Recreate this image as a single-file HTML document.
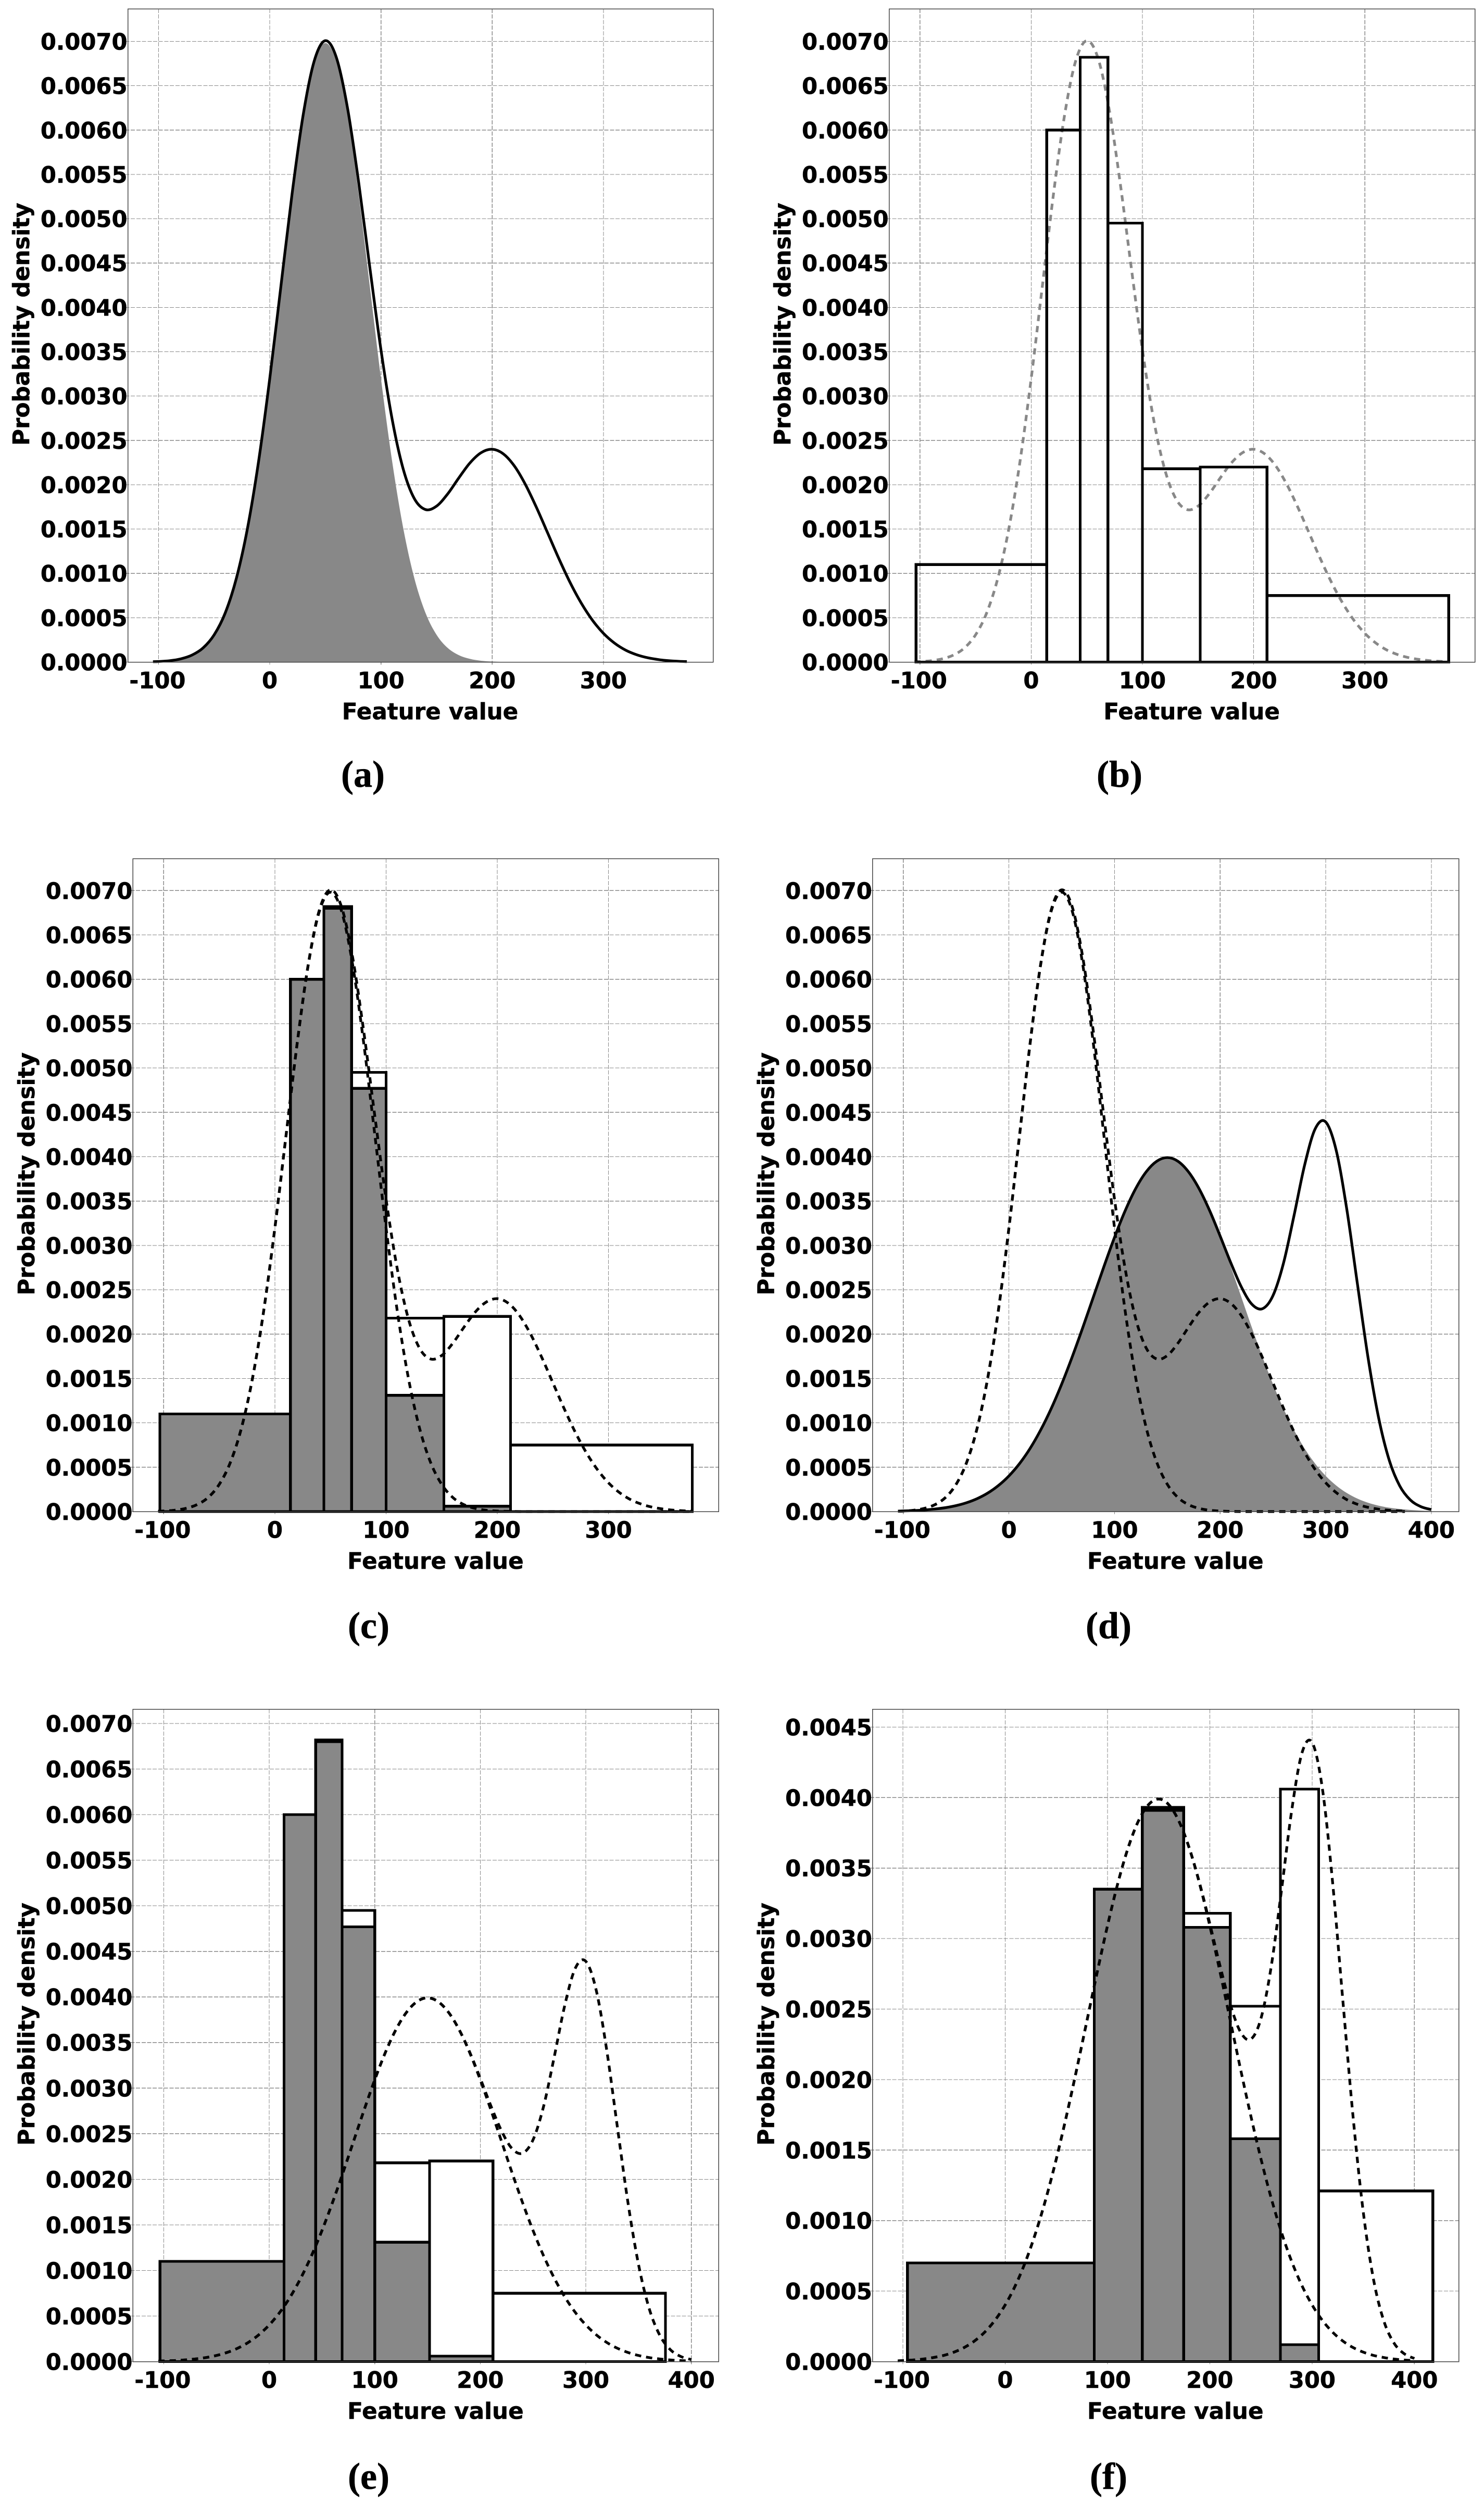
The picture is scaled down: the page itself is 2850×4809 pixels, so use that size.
<!DOCTYPE html>
<html>
<head>
<meta charset="utf-8">
<title>Probability density panels</title>
<style>
html,body{margin:0;padding:0;background:#fff;}
svg{display:block;}
text{fill:#000;stroke:#000;stroke-width:0.6px;}
.tick{font-family:"DejaVu Sans",sans-serif;font-weight:bold;font-size:43.2px;}
.axis{font-family:"DejaVu Sans",sans-serif;font-weight:bold;font-size:43.6px;}
.cap{font-family:"Liberation Serif",serif;font-weight:bold;font-size:72px;}
</style>
</head>
<body>
<svg id="figure" xmlns="http://www.w3.org/2000/svg" width="2850" height="4809" viewBox="0 0 2850 4809"></svg>
<script>
// x samples of the first mixture density
const pXs = [-105,-100,-90,-80,-70,-60,-50,-40,-30,-20,-10,0,10,20,30,40,50,60,70,80,90,100,110,120,130,140,150,160,170,180,190,200,210,220,230,240,250,260,270,280,290,300,310,320,330,340,350,360,370,375];
// first mixture density
const pTotal = [.000004,.000006,.000015,.000036,.000078,.000159,.000307,.000555,.000945,.00151,.002267,.003197,.004236,.005274,.006167,.00678,.007008,.006814,.006242,.005404,.004447,.00352,.002741,.002176,.001843,.00172,.001759,.001897,.002077,.002246,.002361,.0024,.002348,.00221,.001999,.001738,.001452,.001165,.000898,.000666,.000474,.000324,.000213,.000134,.000082,.000048,.000027,.000014,.000007,.000005];
// first mixture, main component
const pMain = [.000004,.000006,.000015,.000036,.000078,.000159,.000307,.000555,.000945,.00151,.002267,.003196,.004234,.00527,.00616,.006766,.006981,.006766,.00616,.00527,.004234,.003196,.002267,.00151,.000945,.000555,.000307,.000159,.000078,.000036,.000015,.000006,.000002,0,0,0,0,0,0,0,0,0,0,0,0,0,0,0,0,0];
// x samples of the second mixture density
const qXs = [-105,-100,-90,-80,-70,-60,-50,-40,-30,-20,-10,0,10,20,30,40,50,60,70,80,90,100,110,120,130,140,150,160,170,180,190,200,210,220,230,240,250,260,270,280,290,300,310,320,330,340,350,360,370,380,390,400];
// second mixture density
const qTotal = [.000005,.000007,.000011,.000018,.000029,.000044,.000067,.0001,.000146,.000209,.000293,.000402,.00054,.000711,.000918,.00116,.001438,.001746,.002076,.00242,.002763,.003091,.003389,.00364,.00383,.003949,.00399,.003949,.00383,.003641,.003394,.003106,.002807,.002534,.002338,.002286,.002433,.0028,.003338,.003905,.004314,.004391,.004067,.003403,.002566,.00174,.001062,.000584,.000291,.000132,.000056,.000022];
// second mixture, main component
const qMain = [.000005,.000007,.000011,.000018,.000029,.000044,.000067,.0001,.000146,.000209,.000293,.000402,.00054,.000711,.000918,.00116,.001438,.001746,.002076,.00242,.002763,.003091,.003389,.00364,.00383,.003949,.00399,.003949,.00383,.00364,.003389,.003091,.002763,.00242,.002076,.001746,.001438,.00116,.000918,.000711,.00054,.000402,.000293,.000209,.000146,.0001,.000067,.000044,.000029,.000018,.000011,.000007];
// histogram bin edges and densities
const pEdges = [-103.5,14,44,69,100,152,212,375.4];
const pHist = [.0011,.006,.00682,.00495,.00218,.0022,.00075];
const pHistMain = [.0011,.006,.0068,.00477,.00131,.00006,0];
const qEdges = [-95.5,87,134,174.5,220,269,306.5,418];
const qHist = [.0007,.00335,.00393,.00318,.00252,.00406,.00121];
const qHistMain = [.0007,.00335,.00391,.00308,.00158,.00012,0];
// tick labels
const xTicksShort = [-100,0,100,200,300];
const xTicksLong = [-100,0,100,200,300,400];
const yTicksTall = ["0.0000","0.0005","0.0010","0.0015","0.0020","0.0025","0.0030","0.0035","0.0040","0.0045","0.0050","0.0055","0.0060","0.0065","0.0070"];
const yTicksShort = ["0.0000","0.0005","0.0010","0.0015","0.0020","0.0025","0.0030","0.0035","0.0040","0.0045"];

const NS = "http://www.w3.org/2000/svg";
const figure = document.getElementById("figure");
const GREY = "#888888";

function make(parent, tag, attrs, text) {
  const node = document.createElementNS(NS, tag);
  for (const key in attrs) node.setAttribute(key, attrs[key]);
  if (text !== undefined) node.textContent = text;
  parent.appendChild(node);
  return node;
}

function smoothPath(xs, ys, sx, sy) {
  const px = xs.map(sx), py = ys.map(sy);
  let d = "M" + px[0].toFixed(2) + "," + py[0].toFixed(2);
  for (let i = 0; i < px.length - 1; i++) {
    const a = Math.max(i - 1, 0), c = i + 1, e = Math.min(i + 2, px.length - 1);
    const c1x = px[i] + (px[c] - px[a]) / 6, c1y = py[i] + (py[c] - py[a]) / 6;
    const c2x = px[c] - (px[e] - px[i]) / 6, c2y = py[c] - (py[e] - py[i]) / 6;
    d += "C" + c1x.toFixed(2) + "," + c1y.toFixed(2) + " " + c2x.toFixed(2) + "," + c2y.toFixed(2) + " " + px[c].toFixed(2) + "," + py[c].toFixed(2);
  }
  return d;
}

function drawArea(g, xs, ys, sx, sy, name) {
  const d = smoothPath(xs, ys, sx, sy) + "L" + sx(xs[xs.length - 1]) + "," + sy(0) + "L" + sx(xs[0]) + "," + sy(0) + "Z";
  const area = make(g, "path", { d: d, fill: GREY, stroke: "none" });
  
  
}

function drawCurve(g, xs, ys, sx, sy, name, color, dashed) {
  const line = make(g, "path", { d: smoothPath(xs, ys, sx, sy), fill: "none", stroke: color, "stroke-width": 5.2 });
  if (dashed) line.setAttribute("stroke-dasharray", "12 9.5");
  
  
}

function drawBars(g, edges, values, sx, sy, fill, name) {
  values.forEach(function (v, i) {
    const l = sx(edges[i]), r = sx(edges[i + 1]), t = sy(v), b = sy(0);
    const bar = make(g, "path", { d: "M" + l + "," + b + "L" + l + "," + t + "L" + r + "," + t + "L" + r + "," + b + "Z", fill: fill, stroke: "#000", "stroke-width": 5.2, "stroke-linejoin": "miter", "shape-rendering": "crispEdges" });
    
    
  });
}

function drawPanel(cfg) {
  const g = make(figure, "g", {});
  
  
  const f = cfg.frame;
  const sx = function (v) { return f.l + (v - cfg.xlim[0]) / (cfg.xlim[1] - cfg.xlim[0]) * (f.r - f.l); };
  const sy = function (v) { return f.b - v / cfg.ymax * (f.b - f.t); };

  cfg.xTicks.forEach(function (v) {
    const x = sx(v);
    const grid = make(g, "line", { x1: x, x2: x, y1: f.t, y2: f.b + 5, stroke: "#888", "stroke-width": 1.2, "stroke-dasharray": "8 2.7", "shape-rendering": "crispEdges" });
    
    
    const label = make(g, "text", { x: x - (v < 0 ? 2 : 0), y: f.b + 50.5, "text-anchor": "middle", class: "tick" }, String(v));
    
    
  });
  cfg.yTicks.forEach(function (s) {
    const y = sy(parseFloat(s));
    const grid = make(g, "line", { x1: f.l - 5, x2: f.r, y1: y, y2: y, stroke: "#888", "stroke-width": 1.2, "stroke-dasharray": "8 2.7", "shape-rendering": "crispEdges" });
    
    
    const label = make(g, "text", { x: f.l - 1, y: y + 16, "text-anchor": "end", class: "tick" }, s);
    
    
  });

  cfg.draw(g, sx, sy);

  const frame = make(g, "rect", { x: f.l, y: f.t, width: f.r - f.l, height: f.b - f.t, fill: "none", stroke: "#444", "stroke-width": 1.5, "shape-rendering": "crispEdges" });
  
  

  const xTitle = make(g, "text", { x: (f.l + f.r) / 2 + 18.5, y: f.b + 110, "text-anchor": "middle", class: "axis" }, "Feature value");
  
  

  const yy = (f.t + f.b) / 2 - 21.6, yx = f.l - 189.5;
  const yTitle = make(g, "text", { x: yx, y: yy, "text-anchor": "middle", class: "axis", transform: "rotate(-90 " + yx + " " + yy + ")" }, "Probability density");
  
  

  const cap = make(g, "text", { x: cfg.capX, y: cfg.capY, "text-anchor": "middle", class: "cap" }, "(" + cfg.id + ")");
  
  
}

drawPanel({ id: "a", frame: { l: 245.5, r: 1369.5, t: 17, b: 1271.5 }, xlim: [-127.6, 398.6], ymax: .007367, xTicks: xTicksShort, yTicks: yTicksTall, capX: 697, capY: 1511,
  draw: function (g, sx, sy) {
    drawArea(g, pXs, pMain, sx, sy, 'main-component-area');
    drawCurve(g, pXs, pTotal, sx, sy, 'density-curve', '#000', false);
  } });

drawPanel({ id: "b", frame: { l: 1707.6, r: 2832.7, t: 17, b: 1271.5 }, xlim: [-127.7, 399], ymax: .007367, xTicks: xTicksShort, yTicks: yTicksTall, capX: 2150, capY: 1511,
  draw: function (g, sx, sy) {
    drawCurve(g, pXs, pTotal, sx, sy, 'density-curve', GREY, true);
    drawBars(g, pEdges, pHist, sx, sy, 'none', 'histogram-bar');
  } });

drawPanel({ id: "c", frame: { l: 255.4, r: 1380.4, t: 1649, b: 2903 }, xlim: [-127.6, 399.2], ymax: .00736, xTicks: xTicksShort, yTicks: yTicksTall, capX: 708, capY: 3146,
  draw: function (g, sx, sy) {
    drawBars(g, pEdges, pHist, sx, sy, '#fff', 'histogram-bar');
    drawBars(g, pEdges, pHistMain, sx, sy, GREY, 'main-histogram-bar');
    drawCurve(g, pXs, pMain, sx, sy, 'main-component-curve', '#000', true);
    drawCurve(g, pXs, pTotal, sx, sy, 'density-curve', '#000', true);
  } });

drawPanel({ id: "d", frame: { l: 1675.8, r: 2801.8, t: 1649, b: 2903 }, xlim: [-129.1, 426.1], ymax: .00736, xTicks: xTicksLong, yTicks: yTicksTall, capX: 2129, capY: 3146,
  draw: function (g, sx, sy) {
    drawArea(g, qXs, qMain, sx, sy, 'target-main-area');
    drawCurve(g, qXs, qTotal, sx, sy, 'target-density-curve', '#000', false);
    drawCurve(g, pXs, pMain, sx, sy, 'source-main-curve', '#000', true);
    drawCurve(g, pXs, pTotal, sx, sy, 'source-density-curve', '#000', true);
  } });

drawPanel({ id: "e", frame: { l: 255.4, r: 1380.4, t: 3282.5, b: 4535.5 }, xlim: [-129.1, 426], ymax: .007157, xTicks: xTicksLong, yTicks: yTicksTall, capX: 708, capY: 4780,
  draw: function (g, sx, sy) {
    drawBars(g, pEdges, pHist, sx, sy, '#fff', 'histogram-bar');
    drawBars(g, pEdges, pHistMain, sx, sy, GREY, 'main-histogram-bar');
    drawCurve(g, qXs, qMain, sx, sy, 'target-main-curve', '#000', true);
    drawCurve(g, qXs, qTotal, sx, sy, 'target-density-curve', '#000', true);
  } });

drawPanel({ id: "f", frame: { l: 1675.8, r: 2801.8, t: 3282.5, b: 4535.5 }, xlim: [-129.6, 443.5], ymax: .004627, xTicks: xTicksLong, yTicks: yTicksShort, capX: 2129, capY: 4780,
  draw: function (g, sx, sy) {
    drawBars(g, qEdges, qHist, sx, sy, '#fff', 'histogram-bar');
    drawBars(g, qEdges, qHistMain, sx, sy, GREY, 'main-histogram-bar');
    drawCurve(g, qXs, qMain, sx, sy, 'target-main-curve', '#000', true);
    drawCurve(g, qXs, qTotal, sx, sy, 'target-density-curve', '#000', true);
  } });
</script>
</body>
</html>
